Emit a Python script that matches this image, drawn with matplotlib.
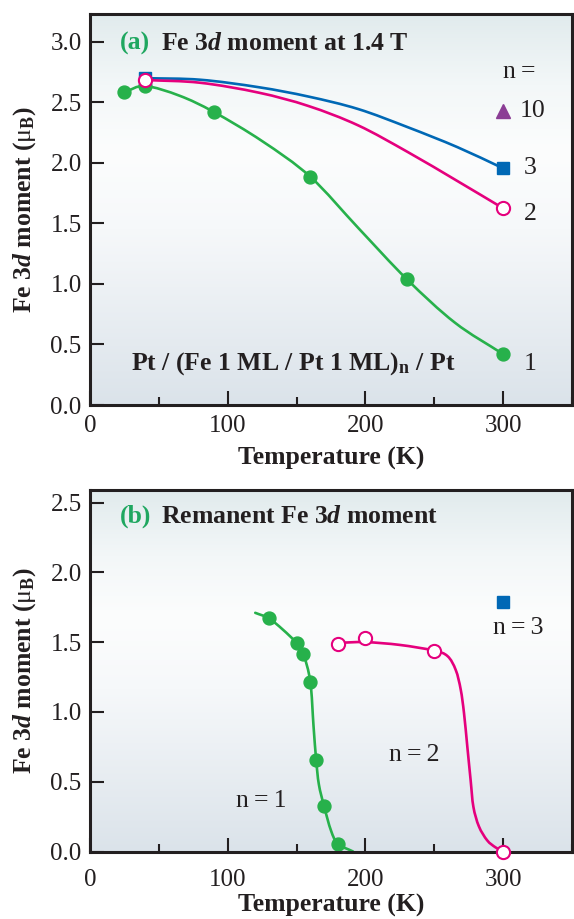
import numpy as np
import matplotlib
matplotlib.use("Agg")
import matplotlib.pyplot as plt
from matplotlib.colors import to_rgb
from matplotlib.path import Path
from matplotlib.patches import PathPatch
from matplotlib.ticker import FixedLocator, FormatStrFormatter

plt.rcParams['font.family'] = ['Liberation Serif', 'DejaVu Serif']
plt.rcParams['mathtext.fontset'] = 'custom'
plt.rcParams['mathtext.rm'] = 'Liberation Serif'
plt.rcParams['mathtext.it'] = 'Liberation Serif:italic:bold'
plt.rcParams['mathtext.bf'] = 'Liberation Serif:bold'

# ---------------- data: panel (a) Fe 3d moment at 1.4 T ----------------
a_n1_T = [25, 40, 90, 160, 230, 300]
a_n1_M = [2.585, 2.635, 2.42, 1.885, 1.04, 0.42]
a_n1_curve_T = [25, 40, 65, 90, 125, 160, 195, 230, 265, 300]
a_n1_curve_M = [2.585, 2.635, 2.555, 2.42, 2.18, 1.885, 1.46, 1.04, 0.68, 0.42]

a_n2_T = [40, 300]
a_n2_M = [2.685, 1.625]
a_n2_curve_T = [40, 80, 122.6, 158.6, 194.7, 230.7, 266.8, 300]
a_n2_curve_M = [2.685, 2.662, 2.58, 2.47, 2.31, 2.09, 1.85, 1.625]

a_n3_T = [40, 300]
a_n3_M = [2.70, 1.955]
a_n3_curve_T = [40, 80, 122.6, 158.6, 194.7, 230.7, 266.8, 300]
a_n3_curve_M = [2.70, 2.687, 2.625, 2.548, 2.445, 2.295, 2.13, 1.955]

a_n10_T = [300]
a_n10_M = [2.43]

# ---------------- data: panel (b) remanent Fe 3d moment ----------------
b_n1_T = [130, 150, 155, 160, 164.2, 170, 180]
b_n1_M = [1.67, 1.494, 1.413, 1.215, 0.658, 0.323, 0.055]
b_n1_curve_T = [120, 130, 140, 150, 155, 160, 162.3, 164.2, 166.2, 170, 175, 180, 191]
b_n1_curve_M = [1.71, 1.67, 1.59, 1.494, 1.413, 1.215, 0.90, 0.658, 0.48, 0.323, 0.15, 0.055, 0.0]

b_n2_T = [180, 200, 250, 300]
b_n2_M = [1.485, 1.53, 1.44, 0.0]
b_n2_curve_T = [180, 200, 225, 249.5, 259.6, 265.6, 269.2, 271.6, 274, 276.4, 278.4, 282.4, 288.4, 294.4, 300]
b_n2_curve_M = [1.495, 1.50, 1.48, 1.44, 1.40, 1.30, 1.16, 0.99, 0.75, 0.51, 0.32, 0.18, 0.08, 0.03, 0.0]

b_n3_T = [300]
b_n3_M = [1.785]

x_ticks = [0, 100, 200, 300]
x_minor = [50, 150, 250, 350]
a_y_ticks = [0.0, 0.5, 1.0, 1.5, 2.0, 2.5, 3.0]
b_y_ticks = [0.0, 0.5, 1.0, 1.5, 2.0, 2.5]

GREEN = '#27b14b'
LABEL_GREEN = '#1fa760'
PINK = '#e5007d'
BLUE = '#0068b5'
PURPLE = '#8b3d95'
DARK = '#231f20'

TICK_FS = 18
ANN_FS = 18.5
BOLD_FS = 18.5

W, H = 574, 919
fig = plt.figure(figsize=(W / 100, H / 100), dpi=100)
fig.patch.set_facecolor('white')

axA = fig.add_axes([90 / W, 1 - 405 / H, 482 / W, 391 / H])
axB = fig.add_axes([90 / W, 1 - 851.5 / H, 482 / W, 361.5 / H])


def gradient(ax):
    stops = [0.0, 0.18, 0.35, 0.55, 1.0]
    cols = ['#e1ebed', '#f3f7f8', '#fcfdfd', '#f6f8fa', '#dbe3ea']
    rgb = np.array([to_rgb(c) for c in cols])
    pos = np.linspace(0, 1, 256)
    img = np.stack([np.interp(pos, stops, rgb[:, k]) for k in range(3)], axis=1)
    ax.imshow(img[:, None, :], extent=[0, 1, 0, 1], transform=ax.transAxes,
              aspect='auto', zorder=0, interpolation='bilinear')


def smooth_curve(ax, xs, ys, color, z):
    """Draw a smooth Bezier curve (Catmull-Rom tangents) through the knots."""
    P = np.column_stack([xs, ys]).astype(float)
    n = len(P)
    verts = [P[0]]
    codes = [Path.MOVETO]
    for i in range(n - 1):
        p1, p2 = P[i], P[i + 1]
        p0 = P[i - 1] if i > 0 else 2 * p1 - p2
        p3 = P[i + 2] if i + 2 < n else 2 * p2 - p1
        c1 = p1 + (p2 - p0) / 6.0
        c2 = p2 - (p3 - p1) / 6.0
        verts += [c1, c2, p2]
        codes += [Path.CURVE4] * 3
    patch = PathPatch(Path(verts, codes), facecolor='none', edgecolor=color,
                      lw=1.9, zorder=z, capstyle='round', joinstyle='round')
    ax.add_patch(patch)


def style(ax, yticks, ylim, xpad):
    ax.set_xlim(0, 350)
    ax.set_ylim(*ylim)
    for s in ax.spines.values():
        s.set_linewidth(2.2)
        s.set_color(DARK)
        s.set_zorder(10)
    ax.xaxis.set_major_locator(FixedLocator(x_ticks))
    ax.xaxis.set_minor_locator(FixedLocator(x_minor))
    ax.yaxis.set_major_locator(FixedLocator(yticks))
    ax.yaxis.set_major_formatter(FormatStrFormatter('%.1f'))
    ax.tick_params(axis='both', which='major', direction='in', length=10, width=1.5,
                   color=DARK, labelsize=TICK_FS, labelcolor=DARK)
    ax.tick_params(axis='x', which='minor', direction='in', length=6, width=1.5, color=DARK)
    ax.tick_params(axis='x', which='major', pad=xpad)
    ax.tick_params(axis='y', which='major', pad=6)
    ax.set_xlabel('Temperature (K)', fontsize=BOLD_FS, fontweight='bold', color=DARK)
    ax.set_ylabel(r'Fe 3$\mathit{d}$ moment ($\mathrm{\mu}_{\mathbf{B}}$)', fontsize=BOLD_FS,
                  fontweight='bold', color=DARK)
    ax.yaxis.set_label_coords(-0.108, 0.5)


# ---------------- panel (a) ----------------
gradient(axA)
style(axA, a_y_ticks, (0, 3.23), 7.5)
axA.xaxis.set_label_coords(0.5, -0.107)

smooth_curve(axA, a_n1_curve_T, a_n1_curve_M, GREEN, 3)
axA.plot(a_n1_T, a_n1_M, 'o', color=GREEN, ms=9.3, zorder=4)
smooth_curve(axA, a_n3_curve_T, a_n3_curve_M, BLUE, 5)
smooth_curve(axA, a_n2_curve_T, a_n2_curve_M, PINK, 6)
axA.plot(a_n3_T, a_n3_M, 's', color=BLUE, ms=9, zorder=7)
axA.plot(a_n2_T, a_n2_M, 'o', mfc='white', mec=PINK, mew=1.5, ms=9.5, zorder=8)
axA.plot(a_n10_T, a_n10_M, '^', color=PURPLE, ms=10, zorder=8)

axA.text(21.6, 2.99, '(a)', fontsize=BOLD_FS, fontweight='bold', color=LABEL_GREEN,
         va='center', ha='left')
axA.text(51.7, 2.99, r'Fe 3$\mathit{d}$ moment at 1.4 T', fontsize=BOLD_FS, fontweight='bold',
         color=DARK, va='center', ha='left')
axA.text(29.6, 0.34, r'Pt / (Fe 1 ML / Pt 1 ML)$_{\mathbf{n}}$ / Pt', fontsize=18.5,
         fontweight='bold', color=DARK, va='center', ha='left')

axA.text(312, 2.75, 'n\u2009=', fontsize=ANN_FS, color=DARK, ha='center', va='center')
axA.text(321.6, 2.43, '10', fontsize=ANN_FS, color=DARK, ha='center', va='center')
axA.text(320, 1.955, '3', fontsize=ANN_FS, color=DARK, ha='center', va='center')
axA.text(320, 1.575, '2', fontsize=ANN_FS, color=DARK, ha='center', va='center')
axA.text(319.4, 0.34, '1', fontsize=ANN_FS, color=DARK, ha='center', va='center')

# ---------------- panel (b) ----------------
gradient(axB)
style(axB, b_y_ticks, (0, 2.59), 12.5)
axB.xaxis.set_label_coords(0.5, -0.117)

smooth_curve(axB, b_n1_curve_T, b_n1_curve_M, GREEN, 3)
axB.plot(b_n1_T, b_n1_M, 'o', color=GREEN, ms=9.3, zorder=4)
smooth_curve(axB, b_n2_curve_T, b_n2_curve_M, PINK, 5)
axB.plot(b_n2_T, b_n2_M, 'o', mfc='white', mec=PINK, mew=1.5, ms=9.5, zorder=11, clip_on=False)
axB.plot(b_n3_T, b_n3_M, 's', color=BLUE, ms=9, zorder=7)

axB.text(21.6, 2.40, '(b)', fontsize=BOLD_FS, fontweight='bold', color=LABEL_GREEN,
         va='center', ha='left')
axB.text(51.7, 2.40, r'Remanent Fe 3$\mathit{d}$ moment', fontsize=BOLD_FS, fontweight='bold',
         color=DARK, va='center', ha='left')
axB.text(311.2, 1.60, 'n\u2009=\u20093', fontsize=ANN_FS, color=DARK, ha='center', va='center')
axB.text(235.5, 0.69, 'n\u2009=\u20092', fontsize=ANN_FS, color=DARK, ha='center', va='center')
axB.text(124.5, 0.36, 'n\u2009=\u20091', fontsize=ANN_FS, color=DARK, ha='center', va='center')

fig.savefig('out.png', dpi=100)
